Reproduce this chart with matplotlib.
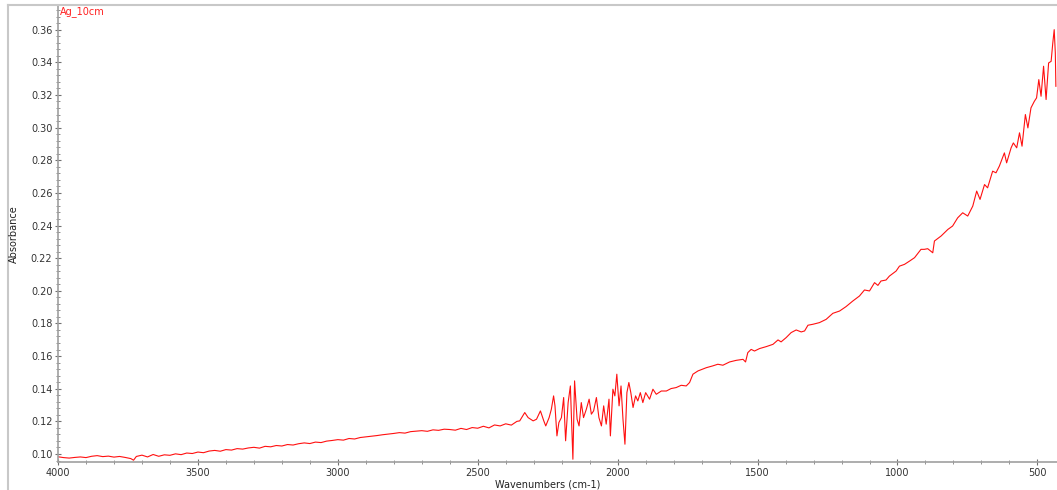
import matplotlib
matplotlib.use("Agg")
import matplotlib.pyplot as plt
from matplotlib.ticker import MultipleLocator
from matplotlib.patches import Rectangle
from matplotlib.lines import Line2D

# ---- data ----
wavenumber = [
    4000, 3980, 3960, 3940, 3920, 3900, 3880, 3860, 3840, 3820, 3800, 3780, 3760, 3740, 3730,
    3720, 3700, 3680, 3660, 3640, 3620, 3600, 3580, 3560, 3540, 3520, 3500, 3480, 3460, 3440,
    3420, 3400, 3380, 3360, 3340, 3320, 3300, 3280, 3260, 3240, 3220, 3200, 3180, 3160, 3140,
    3120, 3100, 3080, 3060, 3040, 3020, 3000, 2980, 2960, 2940, 2920, 2900, 2880, 2860, 2840,
    2820, 2800, 2780, 2760, 2740, 2720, 2700, 2680, 2660, 2640, 2620, 2600, 2580, 2560, 2540,
    2520, 2500, 2480, 2460, 2440, 2420, 2400, 2380, 2360,
    2350, 2332, 2320, 2302, 2290, 2276, 2264, 2257, 2245, 2237, 2229, 2224, 2217, 2210, 2201,
    2193, 2186, 2177, 2169, 2160, 2154, 2145, 2138, 2130, 2122, 2112, 2102, 2094, 2086, 2076,
    2067, 2058, 2050, 2041, 2031, 2026, 2017, 2010, 2003, 1995, 1988, 1981, 1974, 1967, 1960,
    1953, 1945, 1936, 1928, 1919, 1910, 1900, 1886, 1874, 1862, 1844, 1826, 1809, 1791, 1773,
    1755, 1743, 1731, 1713,
    1683, 1660, 1642, 1624, 1600, 1576, 1552, 1543, 1535, 1523, 1511, 1493, 1469, 1445, 1427,
    1416, 1398, 1380, 1362, 1344, 1332, 1320, 1302, 1279, 1255, 1231, 1207, 1184, 1160, 1136,
    1118, 1100, 1082, 1070, 1059, 1041,
    1029, 1005, 993, 975, 957, 939, 916, 904, 892, 874, 868, 844, 820, 803, 785,
    767, 749, 731, 717, 705, 689, 678, 660, 648, 636, 618, 610, 594, 586, 574,
    564, 555, 543, 534, 523, 511, 503, 495, 487, 478, 469, 460, 451, 445, 440,
    436, 434,
]
absorbance = [
    0.0983, 0.0978, 0.0975, 0.0979, 0.0982, 0.0978, 0.0986, 0.0990, 0.0984, 0.0987, 0.0981, 0.0985, 0.0979, 0.0972, 0.0962,
    0.0985, 0.0993, 0.0982, 0.0997, 0.0986, 0.0995, 0.0992, 0.1001, 0.0996, 0.1006, 0.1003, 0.1012, 0.1008, 0.1018, 0.1022,
    0.1017, 0.1027, 0.1024, 0.1033, 0.1030, 0.1037, 0.1041, 0.1036, 0.1047, 0.1044, 0.1052, 0.1049, 0.1058, 0.1055, 0.1063,
    0.1068, 0.1064, 0.1073, 0.1070, 0.1079, 0.1083, 0.1088, 0.1085, 0.1095, 0.1092, 0.1101, 0.1105, 0.1109, 0.1113, 0.1118,
    0.1122, 0.1126, 0.1131, 0.1128, 0.1137, 0.1140, 0.1143, 0.1139, 0.1148, 0.1145, 0.1152, 0.1150, 0.1146, 0.1157, 0.1150,
    0.1162, 0.1158, 0.1170, 0.1160, 0.1178, 0.1172, 0.1185, 0.1177, 0.1200,
    0.1203, 0.1254, 0.1223, 0.1203, 0.1213, 0.1264, 0.1203, 0.1172, 0.1223, 0.1274, 0.1356, 0.1295, 0.1111, 0.1193, 0.1223,
    0.1346, 0.1081, 0.1315, 0.1417, 0.0968, 0.1448, 0.1213, 0.1172, 0.1315, 0.1223, 0.1274, 0.1336, 0.1244, 0.1264, 0.1346,
    0.1223, 0.1172, 0.1295, 0.1183, 0.1336, 0.1111, 0.1397, 0.1356, 0.1489, 0.1295, 0.1417, 0.1213, 0.1060, 0.1376, 0.1438,
    0.1376, 0.1285, 0.1356, 0.1325, 0.1376, 0.1315, 0.1376, 0.1336, 0.1397, 0.1366, 0.1386, 0.1386, 0.1401, 0.1407, 0.1421,
    0.1417, 0.1438, 0.1489, 0.1509,
    0.1529, 0.1540, 0.1550, 0.1544, 0.1564, 0.1574, 0.1580, 0.1564, 0.1621, 0.1641, 0.1631, 0.1646, 0.1658, 0.1672, 0.1699,
    0.1687, 0.1713, 0.1744, 0.1760, 0.1748, 0.1754, 0.1789, 0.1795, 0.1805, 0.1825, 0.1862, 0.1876, 0.1903, 0.1937, 0.1968,
    0.2005, 0.1999, 0.2050, 0.2033, 0.2060, 0.2066,
    0.2090, 0.2121, 0.2151, 0.2162, 0.2182, 0.2203, 0.2254, 0.2254, 0.2258, 0.2233, 0.2305, 0.2336, 0.2376, 0.2397, 0.2447,
    0.2478, 0.2458, 0.2519, 0.2611, 0.2560, 0.2651, 0.2631, 0.2733, 0.2723, 0.2764, 0.2845, 0.2784, 0.2876, 0.2906, 0.2876,
    0.2968, 0.2886, 0.3080, 0.2998, 0.3121, 0.3161, 0.3182, 0.3294, 0.3192, 0.3376, 0.3172, 0.3396, 0.3406, 0.3519, 0.3600,
    0.3457, 0.3253,
]
x_ticks = [4000, 3500, 3000, 2500, 2000, 1500, 1000, 500]
y_ticks = [0.10, 0.12, 0.14, 0.16, 0.18, 0.20, 0.22, 0.24, 0.26, 0.28, 0.30, 0.32, 0.34, 0.36]
title_label = "Ag_10cm"
x_label = "Wavenumbers (cm-1)"
y_label = "Absorbance"

W, H = 1057, 490
fig = plt.figure(figsize=(W / 100, H / 100), dpi=100)
fig.patch.set_facecolor("white")

# outer frame
fig.add_artist(Line2D([8 / W, 8 / W], [0, 1 - 5 / H], transform=fig.transFigure,
                      color="#c8c8c8", lw=1.5))
fig.add_artist(Line2D([8 / W, 1], [1 - 5 / H, 1 - 5 / H], transform=fig.transFigure,
                      color="#c8c8c8", lw=1.5))

ax = fig.add_axes([58 / W, 28 / H, 1 - 58 / W, (462 - 6) / H])
ax.plot(wavenumber, absorbance, color="#ff1010", lw=0.8)

ax.set_xlim(4000, 430)
ax.set_ylim(0.0951, 0.3745)
ax.set_xticks(x_ticks)
ax.set_xticklabels([str(v) for v in x_ticks])
ax.set_yticks(y_ticks)
ax.set_yticklabels([f"{v:.2f}" for v in y_ticks])
ax.xaxis.set_minor_locator(MultipleLocator(100))
ax.yaxis.set_minor_locator(MultipleLocator(0.004))

for s in ["top", "right"]:
    ax.spines[s].set_visible(False)
for s in ["left", "bottom"]:
    ax.spines[s].set_color("#a0a0a0")
    ax.spines[s].set_linewidth(1.2)

ax.tick_params(axis="both", which="major", direction="inout", length=4, width=0.8,
               color="#707070", labelsize=7, labelcolor="#333333", pad=2)
ax.tick_params(axis="both", which="minor", direction="inout", length=2.5, width=0.7,
               color="#909090")

ax.text(60 / W, 1 - 12 / H, title_label, transform=fig.transFigure, color="#ff2020",
        fontsize=7, va="center", ha="left")
fig.text(548 / W, 1 - 484 / H, x_label, fontsize=7, color="#222222", ha="center", va="center")
fig.text(14 / W, 1 - 234 / H, y_label, fontsize=7, color="#222222", ha="center", va="center",
         rotation=90)

fig.savefig("out.png", dpi=100)
